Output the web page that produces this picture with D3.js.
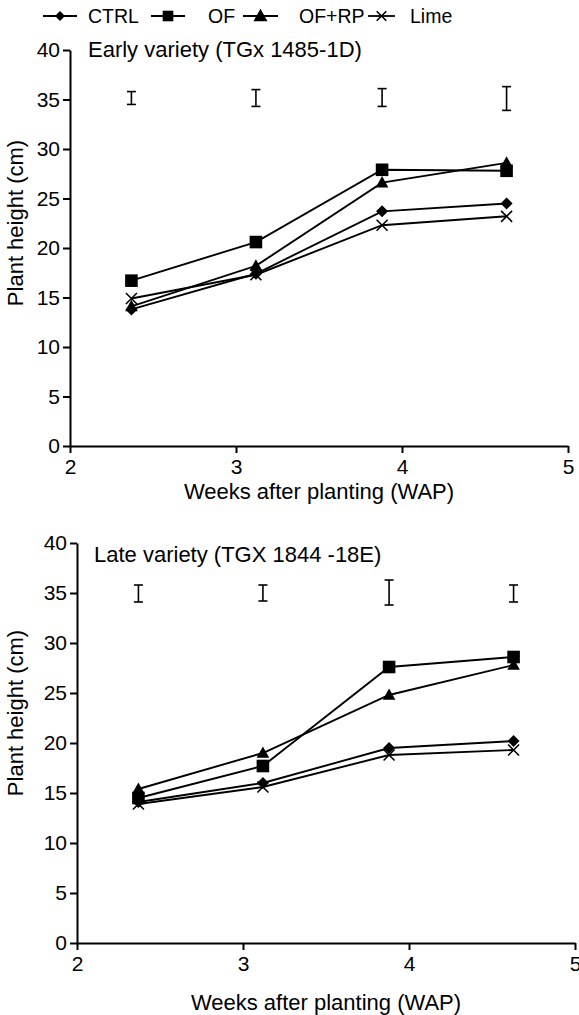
<!DOCTYPE html>
<html>
<head>
<meta charset="utf-8">
<script src="https://cdn.jsdelivr.net/npm/d3@7"></script>
<style>
  html, body { margin: 0; padding: 0; background: #fff; }
  svg { display: block; }
  text { font-family: "Liberation Sans", Arial, sans-serif; fill: #000; }
</style>
</head>
<body>
<svg id="chart" width="579" height="1015"></svg>
<script>
// ---------- DATA ----------
const weeks = [2.37, 3.12, 3.88, 4.63];
const seriesNames = ["CTRL", "OF", "OF+RP", "Lime"];
const xTicks = [2, 3, 4, 5];
const yTicks = [0, 5, 10, 15, 20, 25, 30, 35, 40];

// Early variety
const earlyCTRL = [13.8, 17.4, 23.7, 24.5];
const earlyOF   = [16.7, 20.6, 27.9, 27.8];
const earlyOFRP = [14.1, 18.2, 26.6, 28.6];
const earlyLime = [14.9, 17.3, 22.3, 23.2];
const earlyBarLow  = [34.5, 34.3, 34.3, 33.9];
const earlyBarHigh = [35.8, 36.0, 36.1, 36.3];

// Late variety
const lateCTRL = [14.1, 16.0, 19.5, 20.2];
const lateOF   = [14.5, 17.7, 27.6, 28.6];
const lateOFRP = [15.4, 19.0, 24.8, 27.8];
const lateLime = [13.9, 15.6, 18.8, 19.3];
const lateBarLow  = [34.1, 34.2, 33.8, 34.1];
const lateBarHigh = [35.8, 35.8, 36.3, 35.8];

const panelTitles = ["Early variety (TGx 1485-1D)", "Late variety (TGX 1844 -18E)"];
const xTitle = "Weeks after planting (WAP)";
const yTitle = "Plant height (cm)";

// ---------- MARKERS ----------
function markerPath(type, s) {
  const p = d3.path();
  if (type === "CTRL") { // diamond
    p.moveTo(0, -s); p.lineTo(s, 0); p.lineTo(0, s); p.lineTo(-s, 0); p.closePath();
  } else if (type === "OF") { // square
    p.rect(-s, -s, 2 * s, 2 * s);
  } else if (type === "OF+RP") { // triangle
    p.moveTo(0, -s * 1.05); p.lineTo(s, s * 0.75); p.lineTo(-s, s * 0.75); p.closePath();
  } else { // x
    p.moveTo(-s, -s); p.lineTo(s, s); p.moveTo(s, -s); p.lineTo(-s, s);
  }
  return p.toString();
}
const markerSize = { "CTRL": 6, "OF": 6.3, "OF+RP": 6.3, "Lime": 5.5 };

const svg = d3.select("#chart");

// ---------- LEGEND ----------
const legendItems = [
  { name: "CTRL", x1: 43, x2: 77, tx: 88, s: 5 },
  { name: "OF", x1: 151, x2: 185, tx: 208, s: 5.3 },
  { name: "OF+RP", x1: 243, x2: 278, tx: 299, s: 7 },
  { name: "Lime", x1: 368, x2: 395, tx: 410, s: 4.8 }
];
const lg = svg.append("g");
legendItems.forEach(it => {
  const ly = 16;
  lg.append("line").attr("x1", it.x1).attr("x2", it.x2).attr("y1", ly).attr("y2", ly)
    .attr("stroke", "#000").attr("stroke-width", 1.8);
  lg.append("path").attr("d", markerPath(it.name, it.s))
    .attr("transform", `translate(${(it.x1 + it.x2) / 2},${ly})`)
    .attr("fill", it.name === "Lime" ? "none" : "#000")
    .attr("stroke", "#000").attr("stroke-width", it.name === "Lime" ? 1.6 : 0);
  lg.append("text").attr("x", it.tx).attr("y", ly + 7).attr("font-size", 19.5).text(it.name);
});

// ---------- PANELS ----------
const panels = [
  { x0: 70, x1: 568, y0: 446, y1: 50, title: panelTitles[0], titleX: 88, titleY: 57,
    xTitleY: 499, yTitleCY: 223,
    data: [earlyCTRL, earlyOF, earlyOFRP, earlyLime], low: earlyBarLow, high: earlyBarHigh },
  { x0: 77, x1: 575, y0: 943, y1: 543, title: panelTitles[1], titleX: 94, titleY: 562,
    xTitleY: 1010, yTitleCY: 713,
    data: [lateCTRL, lateOF, lateOFRP, lateLime], low: lateBarLow, high: lateBarHigh }
];

panels.forEach(pn => {
  const g = svg.append("g");
  const x = d3.scaleLinear().domain([2, 5]).range([pn.x0, pn.x1]);
  const y = d3.scaleLinear().domain([0, 40]).range([pn.y0, pn.y1]);

  const yAxis = d3.axisLeft(y).tickValues(yTicks).tickFormat(d3.format("d"))
    .tickSize(7).tickSizeOuter(0).tickPadding(3);
  const xAxis = d3.axisBottom(x).tickValues(xTicks).tickFormat(d3.format("d"))
    .tickSize(7).tickSizeOuter(0).tickPadding(6);

  const gy = g.append("g").attr("transform", `translate(${pn.x0},0)`).call(yAxis);
  const gx = g.append("g").attr("transform", `translate(0,${pn.y0})`).call(xAxis);
  [gx, gy].forEach(a => {
    a.selectAll("path.domain").attr("stroke", "#000").attr("stroke-width", 2);
    a.selectAll(".tick line").attr("stroke", "#000").attr("stroke-width", 2);
    a.selectAll(".tick text").attr("font-size", 21).attr("font-family", "Liberation Sans, Arial, sans-serif").attr("fill", "#000");
  });

  // panel title
  g.append("text").attr("x", pn.titleX).attr("y", pn.titleY).attr("font-size", 22).text(pn.title);
  // axis titles
  g.append("text").attr("x", (pn.x0 + pn.x1) / 2).attr("y", pn.xTitleY)
    .attr("text-anchor", "middle").attr("font-size", 22).text(xTitle);
  g.append("text").attr("transform", `translate(23,${pn.yTitleCY}) rotate(-90)`)
    .attr("text-anchor", "middle").attr("font-size", 22).text(yTitle);

  // LSD bars
  weeks.forEach((w, i) => {
    const cx = x(w), ya = y(pn.low[i]), yb = y(pn.high[i]);
    g.append("line").attr("x1", cx).attr("x2", cx).attr("y1", ya).attr("y2", yb)
      .attr("stroke", "#000").attr("stroke-width", 1.6);
    [ya, yb].forEach(yy => g.append("line").attr("x1", cx - 4.5).attr("x2", cx + 4.5)
      .attr("y1", yy).attr("y2", yy).attr("stroke", "#000").attr("stroke-width", 1.6));
  });

  // lines
  const line = d3.line().x((d, i) => x(weeks[i])).y(d => y(d));
  pn.data.forEach(vals => {
    g.append("path").attr("d", line(vals)).attr("fill", "none")
      .attr("stroke", "#000").attr("stroke-width", 1.9);
  });

  // markers (Lime first so it sits beneath)
  const order = [3, 0, 2, 1];
  order.forEach(si => {
    const name = seriesNames[si];
    pn.data[si].forEach((v, i) => {
      g.append("path").attr("d", markerPath(name, markerSize[name]))
        .attr("transform", `translate(${x(weeks[i])},${y(v)})`)
        .attr("fill", name === "Lime" ? "none" : "#000")
        .attr("stroke", "#000").attr("stroke-width", name === "Lime" ? 1.6 : 0);
    });
  });
});
</script>
</body>
</html>
